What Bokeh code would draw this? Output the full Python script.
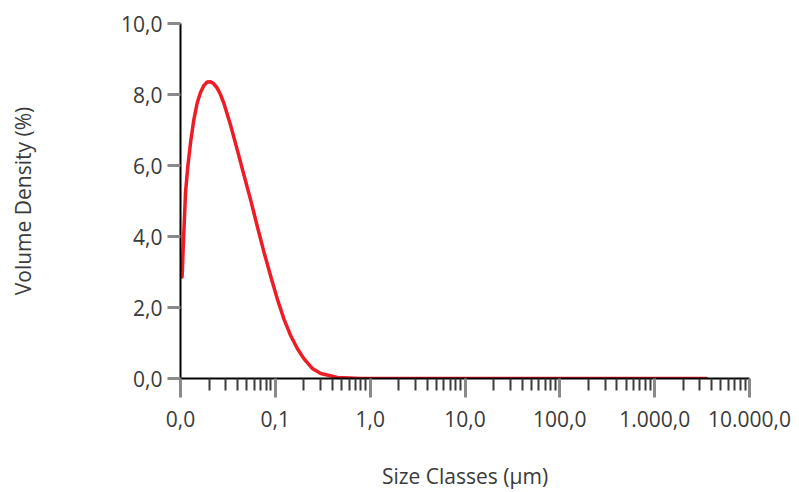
from bokeh.plotting import figure
from bokeh.models import Range1d, FixedTicker, CustomJSTickFormatter
from bokeh.embed import file_html
from bokeh.resources import INLINE

# Size classes (µm) and volume density (%)
size_um = [0.0104, 0.01083, 0.0113, 0.01194, 0.01276, 0.0138, 0.0150, 0.0162,
           0.0176, 0.0191, 0.0207, 0.0225, 0.0244, 0.0264, 0.0286, 0.0337,
           0.0397, 0.0466, 0.0548, 0.0645, 0.0759, 0.0892, 0.105, 0.123,
           0.145, 0.171, 0.200, 0.246, 0.301, 0.452, 0.796, 3500.0]
volume_density = [2.86, 4.10, 5.24, 5.97, 6.64, 7.28, 7.76, 8.05,
                  8.25, 8.35, 8.36, 8.30, 8.18, 8.00, 7.76, 7.14,
                  6.44, 5.74, 5.04, 4.29, 3.56, 2.89, 2.24, 1.68,
                  1.21, 0.84, 0.56, 0.28, 0.14, 0.03, 0.0, 0.0]

x_ticks = [0.01, 0.1, 1, 10, 100, 1000, 10000]
y_ticks = [0, 2, 4, 6, 8, 10]
x_title = "Size Classes (µm)"
y_title = "Volume Density (%)"

FONT = "Open Sans"
TXT = "#3a3a3a"

p = figure(width=799, height=492, x_axis_type="log",
           x_range=Range1d(0.01, 10000), y_range=Range1d(0, 10),
           output_backend="svg", toolbar_location=None,
           min_border_left=180, min_border_right=50,
           min_border_top=23, min_border_bottom=112)
p.outline_line_color = None
p.xgrid.visible = False
p.ygrid.visible = False
p.background_fill_color = "white"
p.border_fill_color = "white"

p.line(size_um, volume_density, line_color="#ee1c25", line_width=3.5,
       line_join="round", line_cap="round")

fmt = CustomJSTickFormatter(code="""
const s = tick.toFixed(1);
const parts = s.split('.');
const ip = parts[0].replace(/\\B(?=(\\d{3})+(?!\\d))/g, '.');
return ip + ',' + parts[1];
""")

minor = [m * 10.0 ** e for e in range(-2, 4) for m in range(2, 10)]
xa = p.xaxis[0]
xa.ticker = FixedTicker(ticks=x_ticks, minor_ticks=minor)
xa.formatter = fmt
xa.axis_line_color = "black"
xa.axis_line_width = 2
xa.major_tick_line_color = "#8a8a8a"
xa.major_tick_line_width = 3
xa.major_tick_in = 0
xa.major_tick_out = 19
xa.minor_tick_line_color = "#3c3c3c"
xa.minor_tick_line_width = 2
xa.minor_tick_in = 0
xa.minor_tick_out = 12
xa.major_label_text_font = FONT
xa.major_label_text_font_size = "21px"
xa.major_label_text_color = TXT
xa.major_label_standoff = 13
xa.axis_label = x_title
xa.axis_label_text_font = FONT
xa.axis_label_text_font_size = "21px"
xa.axis_label_text_font_style = "normal"
xa.axis_label_text_color = TXT
xa.axis_label_standoff = 32

ya = p.yaxis[0]
ya.ticker = FixedTicker(ticks=y_ticks)
ya.formatter = fmt
ya.axis_line_color = "black"
ya.axis_line_width = 2
ya.major_tick_line_color = "#8a8a8a"
ya.major_tick_line_width = 3
ya.major_tick_in = 0
ya.major_tick_out = 13
ya.minor_tick_line_color = None
ya.major_label_text_font = FONT
ya.major_label_text_font_size = "21px"
ya.major_label_text_color = TXT
ya.major_label_standoff = 5
ya.axis_label = y_title
ya.axis_label_text_font = FONT
ya.axis_label_text_font_size = "21px"
ya.axis_label_text_font_style = "normal"
ya.axis_label_text_color = TXT
ya.axis_label_standoff = 81

open("out.html", "w").write(file_html(p, INLINE))
